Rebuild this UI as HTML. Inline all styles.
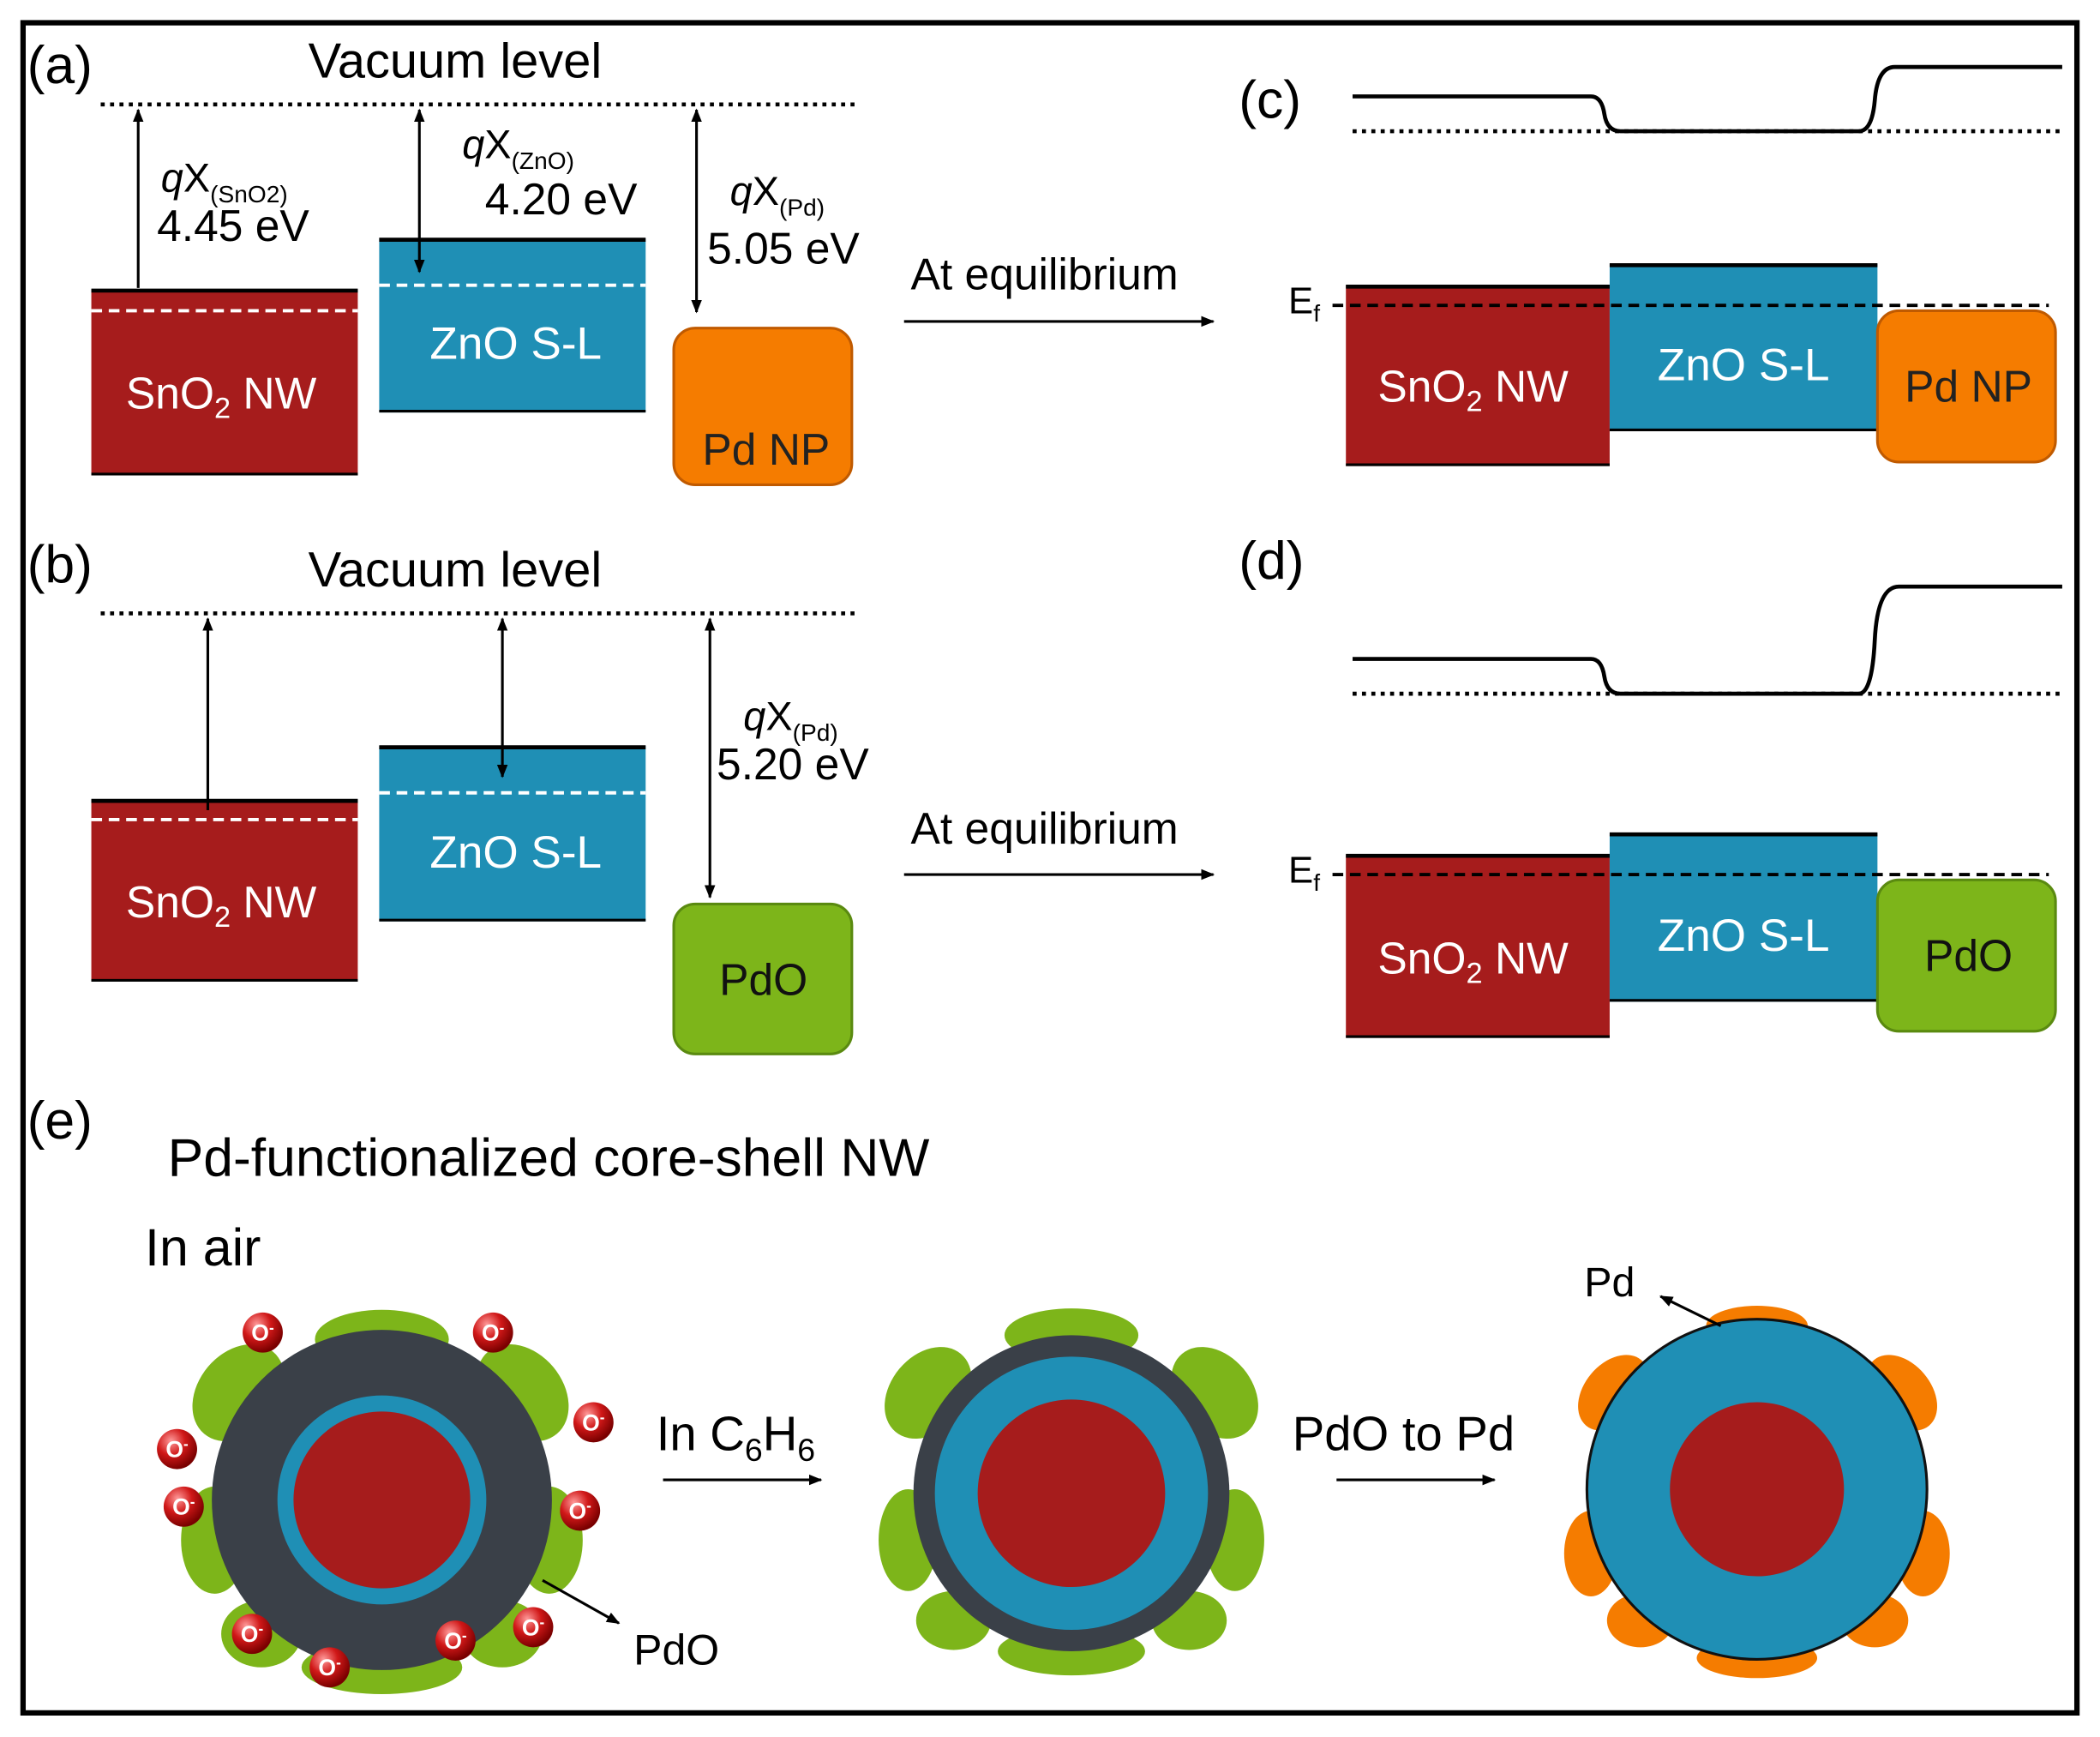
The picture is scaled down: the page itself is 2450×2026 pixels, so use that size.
<!DOCTYPE html>
<html><head><meta charset="utf-8"><style>html,body{margin:0;padding:0;background:#fff}svg{display:block}</style></head><body>
<svg width="2450" height="2026" viewBox="0 0 1568 1297" xmlns="http://www.w3.org/2000/svg" font-family="Liberation Sans, sans-serif">
<defs>
<marker id="ah" markerWidth="10" markerHeight="10" refX="9" refY="5" orient="auto-start-reverse" markerUnits="userSpaceOnUse"><path d="M0,1 L10,5 L0,9 z" fill="#000"/></marker>
<radialGradient id="ball" cx="0.35" cy="0.3" r="0.7"><stop offset="0" stop-color="#ff9a9a"/><stop offset="0.5" stop-color="#d01818"/><stop offset="1" stop-color="#7a0000"/></radialGradient>
</defs>
<rect x="0" y="0" width="1568" height="1297" fill="#fff"/>
<rect x="17" y="17" width="1534" height="1262" fill="none" stroke="#000" stroke-width="4"/>

<!-- (a) -->
<text x="20" y="62" font-size="40">(a)</text>
<text x="230" y="58" font-size="37">Vacuum level</text>
<line x1="75" y1="78" x2="640" y2="78" stroke="#000" stroke-width="3" stroke-dasharray="3,4"/>
<rect x="68" y="216" width="199" height="139" fill="#a61c1c"/>
<line x1="68" y1="217" x2="267" y2="217" stroke="#000" stroke-width="3"/>
<line x1="68" y1="354" x2="267" y2="354" stroke="#000" stroke-width="2"/>
<line x1="68" y1="232" x2="267" y2="232" stroke="#fff" stroke-width="2.5" stroke-dasharray="8,5"/>
<text x="165" y="305" font-size="33" fill="#fff" text-anchor="middle">SnO<tspan font-size="22" dy="7">2</tspan><tspan dy="-7"> NW</tspan></text>
<line x1="103" y1="215" x2="103" y2="82" stroke="#000" stroke-width="2" marker-end="url(#ah)"/>
<text x="120" y="143" font-size="30"><tspan font-style="italic">q</tspan>X<tspan font-size="18" dy="8">(SnO2)</tspan></text>
<text x="117" y="180" font-size="33">4.45 eV</text>
<rect x="283" y="178" width="199" height="130" fill="#1f8fb5"/>
<line x1="283" y1="179" x2="482" y2="179" stroke="#000" stroke-width="3"/>
<line x1="283" y1="307" x2="482" y2="307" stroke="#000" stroke-width="2"/>
<line x1="283" y1="213" x2="482" y2="213" stroke="#fff" stroke-width="2.5" stroke-dasharray="8,5"/>
<text x="385" y="268" font-size="34" fill="#fff" text-anchor="middle">ZnO S-L</text>
<line x1="313" y1="82" x2="313" y2="203" stroke="#000" stroke-width="2" marker-start="url(#ah)" marker-end="url(#ah)"/>
<text x="345" y="118" font-size="30"><tspan font-style="italic">q</tspan>X<tspan font-size="18" dy="8">(ZnO)</tspan></text>
<text x="362" y="160" font-size="33">4.20 eV</text>
<rect x="503" y="245" width="133" height="117" rx="16" fill="#f57c00" stroke="#c05a00" stroke-width="2"/>
<text x="572" y="347" font-size="33" fill="#222" text-anchor="middle">Pd NP</text>
<line x1="520" y1="82" x2="520" y2="233" stroke="#000" stroke-width="2" marker-start="url(#ah)" marker-end="url(#ah)"/>
<text x="545" y="153" font-size="30"><tspan font-style="italic">q</tspan>X<tspan font-size="18" dy="8">(Pd)</tspan></text>
<text x="528" y="197" font-size="33">5.05 eV</text>
<text x="680" y="216" font-size="33">At equilibrium</text>
<line x1="675" y1="240" x2="906" y2="240" stroke="#000" stroke-width="2" marker-end="url(#ah)"/>

<!-- (c) -->
<text x="925" y="88" font-size="40">(c)</text>
<path d="M1010,72 L1188,72 Q1196,72 1198,85 Q1200,98 1210,98 L1388,98 Q1398,98 1400,75 Q1402,50 1415,50 L1540,50" fill="none" stroke="#000" stroke-width="3"/>
<line x1="1010" y1="98" x2="1540" y2="98" stroke="#000" stroke-width="3" stroke-dasharray="3,4"/>
<text x="962" y="234" font-size="28">E<tspan font-size="18" dy="6">f</tspan></text>
<rect x="1005" y="213" width="197" height="135" fill="#a61c1c"/>
<line x1="1005" y1="214" x2="1202" y2="214" stroke="#000" stroke-width="3"/>
<line x1="1005" y1="347" x2="1202" y2="347" stroke="#000" stroke-width="2"/>
<rect x="1202" y="197" width="200" height="125" fill="#1f8fb5"/>
<line x1="1202" y1="198" x2="1402" y2="198" stroke="#000" stroke-width="3"/>
<line x1="1202" y1="321" x2="1402" y2="321" stroke="#000" stroke-width="2"/>
<rect x="1402" y="232" width="133" height="113" rx="16" fill="#f57c00" stroke="#c05a00" stroke-width="2"/>
<line x1="995" y1="228" x2="1530" y2="228" stroke="#000" stroke-width="2.5" stroke-dasharray="8,5"/>
<text x="1100" y="300" font-size="33" fill="#fff" text-anchor="middle">SnO<tspan font-size="22" dy="7">2</tspan><tspan dy="-7"> NW</tspan></text>
<text x="1302" y="284" font-size="34" fill="#fff" text-anchor="middle">ZnO S-L</text>
<text x="1470" y="300" font-size="33" fill="#222" text-anchor="middle">Pd NP</text>

<!-- (b) -->
<text x="20" y="435" font-size="40">(b)</text>
<text x="230" y="438" font-size="37">Vacuum level</text>
<line x1="75" y1="458" x2="640" y2="458" stroke="#000" stroke-width="3" stroke-dasharray="3,4"/>
<rect x="68" y="597" width="199" height="136" fill="#a61c1c"/>
<line x1="68" y1="598" x2="267" y2="598" stroke="#000" stroke-width="3"/>
<line x1="68" y1="732" x2="267" y2="732" stroke="#000" stroke-width="2"/>
<line x1="68" y1="612" x2="267" y2="612" stroke="#fff" stroke-width="2.5" stroke-dasharray="8,5"/>
<text x="165" y="685" font-size="33" fill="#fff" text-anchor="middle">SnO<tspan font-size="22" dy="7">2</tspan><tspan dy="-7"> NW</tspan></text>
<line x1="155" y1="605" x2="155" y2="462" stroke="#000" stroke-width="2" marker-end="url(#ah)"/>
<rect x="283" y="557" width="199" height="131" fill="#1f8fb5"/>
<line x1="283" y1="558" x2="482" y2="558" stroke="#000" stroke-width="3"/>
<line x1="283" y1="687" x2="482" y2="687" stroke="#000" stroke-width="2"/>
<line x1="283" y1="592" x2="482" y2="592" stroke="#fff" stroke-width="2.5" stroke-dasharray="8,5"/>
<text x="385" y="648" font-size="34" fill="#fff" text-anchor="middle">ZnO S-L</text>
<line x1="375" y1="462" x2="375" y2="580" stroke="#000" stroke-width="2" marker-start="url(#ah)" marker-end="url(#ah)"/>
<rect x="503" y="675" width="133" height="112" rx="16" fill="#7db51a" stroke="#5a8a10" stroke-width="2"/>
<text x="570" y="743" font-size="33" fill="#111" text-anchor="middle">PdO</text>
<line x1="530" y1="462" x2="530" y2="670" stroke="#000" stroke-width="2" marker-start="url(#ah)" marker-end="url(#ah)"/>
<text x="555" y="545" font-size="30"><tspan font-style="italic">q</tspan>X<tspan font-size="18" dy="8">(Pd)</tspan></text>
<text x="535" y="582" font-size="33">5.20 eV</text>
<text x="680" y="630" font-size="33">At equilibrium</text>
<line x1="675" y1="653" x2="906" y2="653" stroke="#000" stroke-width="2" marker-end="url(#ah)"/>

<!-- (d) -->
<text x="925" y="432" font-size="40">(d)</text>
<path d="M1010,492 L1188,492 Q1196,492 1198,505 Q1200,518 1210,518 L1388,518 Q1398,518 1400,478 Q1402,438 1418,438 L1540,438" fill="none" stroke="#000" stroke-width="3"/>
<line x1="1010" y1="518" x2="1540" y2="518" stroke="#000" stroke-width="3" stroke-dasharray="3,4"/>
<text x="962" y="659" font-size="28">E<tspan font-size="18" dy="6">f</tspan></text>
<rect x="1005" y="638" width="197" height="137" fill="#a61c1c"/>
<line x1="1005" y1="639" x2="1202" y2="639" stroke="#000" stroke-width="3"/>
<line x1="1005" y1="774" x2="1202" y2="774" stroke="#000" stroke-width="2"/>
<rect x="1202" y="622" width="200" height="126" fill="#1f8fb5"/>
<line x1="1202" y1="623" x2="1402" y2="623" stroke="#000" stroke-width="3"/>
<line x1="1202" y1="747" x2="1402" y2="747" stroke="#000" stroke-width="2"/>
<rect x="1402" y="657" width="133" height="113" rx="16" fill="#7db51a" stroke="#5a8a10" stroke-width="2"/>
<line x1="995" y1="653" x2="1530" y2="653" stroke="#000" stroke-width="2.5" stroke-dasharray="8,5"/>
<text x="1100" y="727" font-size="33" fill="#fff" text-anchor="middle">SnO<tspan font-size="22" dy="7">2</tspan><tspan dy="-7"> NW</tspan></text>
<text x="1302" y="710" font-size="34" fill="#fff" text-anchor="middle">ZnO S-L</text>
<text x="1470" y="725" font-size="33" fill="#111" text-anchor="middle">PdO</text>

<!-- (e) -->
<text x="20" y="850" font-size="40">(e)</text>
<text x="125" y="878" font-size="40">Pd-functionalized core-shell NW</text>
<text x="108" y="945" font-size="39">In air</text>

<g fill="#7db51a">
<ellipse cx="285" cy="1000" rx="50" ry="22"/>
<ellipse cx="178" cy="1040" rx="30" ry="40" transform="rotate(40 178 1040)"/>
<ellipse cx="390" cy="1040" rx="30" ry="40" transform="rotate(-40 390 1040)"/>
<ellipse cx="160" cy="1150" rx="25" ry="40"/>
<ellipse cx="410" cy="1150" rx="25" ry="40"/>
<ellipse cx="285" cy="1245" rx="60" ry="20"/>
<ellipse cx="195" cy="1220" rx="30" ry="25"/>
<ellipse cx="375" cy="1220" rx="30" ry="25"/>
</g>
<circle cx="285" cy="1120" r="127" fill="#3a4048"/>
<circle cx="285" cy="1120" r="78" fill="#1f8fb5"/>
<circle cx="285" cy="1120" r="66" fill="#a61c1c"/>
<line x1="405" y1="1180" x2="462" y2="1212" stroke="#000" stroke-width="2" marker-end="url(#ah)"/>
<text x="473" y="1243" font-size="32">PdO</text>
<g font-size="17" fill="#fff" font-weight="bold" text-anchor="middle">
<circle cx="196" cy="995" r="15" fill="url(#ball)"/><text x="196" y="1001">O<tspan font-size="11" dy="-6">-</tspan></text>
<circle cx="368" cy="995" r="15" fill="url(#ball)"/><text x="368" y="1001">O<tspan font-size="11" dy="-6">-</tspan></text>
<circle cx="443" cy="1062" r="15" fill="url(#ball)"/><text x="443" y="1068">O<tspan font-size="11" dy="-6">-</tspan></text>
<circle cx="132" cy="1082" r="15" fill="url(#ball)"/><text x="132" y="1088">O<tspan font-size="11" dy="-6">-</tspan></text>
<circle cx="137" cy="1125" r="15" fill="url(#ball)"/><text x="137" y="1131">O<tspan font-size="11" dy="-6">-</tspan></text>
<circle cx="433" cy="1128" r="15" fill="url(#ball)"/><text x="433" y="1134">O<tspan font-size="11" dy="-6">-</tspan></text>
<circle cx="188" cy="1220" r="15" fill="url(#ball)"/><text x="188" y="1226">O<tspan font-size="11" dy="-6">-</tspan></text>
<circle cx="246" cy="1245" r="15" fill="url(#ball)"/><text x="246" y="1251">O<tspan font-size="11" dy="-6">-</tspan></text>
<circle cx="340" cy="1225" r="15" fill="url(#ball)"/><text x="340" y="1231">O<tspan font-size="11" dy="-6">-</tspan></text>
<circle cx="398" cy="1215" r="15" fill="url(#ball)"/><text x="398" y="1221">O<tspan font-size="11" dy="-6">-</tspan></text>
</g>

<text x="490" y="1083" font-size="36">In C<tspan font-size="24" dy="8">6</tspan><tspan dy="-8">H</tspan><tspan font-size="24" dy="8">6</tspan></text>
<line x1="495" y1="1105" x2="613" y2="1105" stroke="#000" stroke-width="2" marker-end="url(#ah)"/>

<g fill="#7db51a">
<ellipse cx="800" cy="997" rx="50" ry="20"/>
<ellipse cx="693" cy="1040" rx="28" ry="38" transform="rotate(40 693 1040)"/>
<ellipse cx="907" cy="1040" rx="28" ry="38" transform="rotate(-40 907 1040)"/>
<ellipse cx="678" cy="1150" rx="22" ry="38"/>
<ellipse cx="922" cy="1150" rx="22" ry="38"/>
<ellipse cx="800" cy="1233" rx="55" ry="18"/>
<ellipse cx="712" cy="1210" rx="28" ry="22"/>
<ellipse cx="888" cy="1210" rx="28" ry="22"/>
</g>
<circle cx="800" cy="1115" r="118" fill="#3a4048"/>
<circle cx="800" cy="1115" r="102" fill="#1f8fb5"/>
<circle cx="800" cy="1115" r="70" fill="#a61c1c"/>

<text x="965" y="1083" font-size="36">PdO to Pd</text>
<line x1="998" y1="1105" x2="1116" y2="1105" stroke="#000" stroke-width="2" marker-end="url(#ah)"/>

<g fill="#f57c00">
<ellipse cx="1312" cy="990" rx="38" ry="15"/>
<ellipse cx="1205" cy="1040" rx="22" ry="32" transform="rotate(40 1205 1040)"/>
<ellipse cx="1420" cy="1040" rx="22" ry="32" transform="rotate(-40 1420 1040)"/>
<ellipse cx="1188" cy="1160" rx="20" ry="32"/>
<ellipse cx="1436" cy="1160" rx="20" ry="32"/>
<ellipse cx="1312" cy="1238" rx="45" ry="15"/>
<ellipse cx="1225" cy="1210" rx="25" ry="20"/>
<ellipse cx="1400" cy="1210" rx="25" ry="20"/>
</g>
<circle cx="1312" cy="1112" r="127" fill="#1f8fb5" stroke="#111" stroke-width="2"/>
<circle cx="1312" cy="1112" r="65" fill="#a61c1c"/>
<line x1="1285" y1="990" x2="1240" y2="968" stroke="#000" stroke-width="2" marker-end="url(#ah)"/>
<text x="1183" y="968" font-size="31">Pd</text>
</svg>
</body></html>
